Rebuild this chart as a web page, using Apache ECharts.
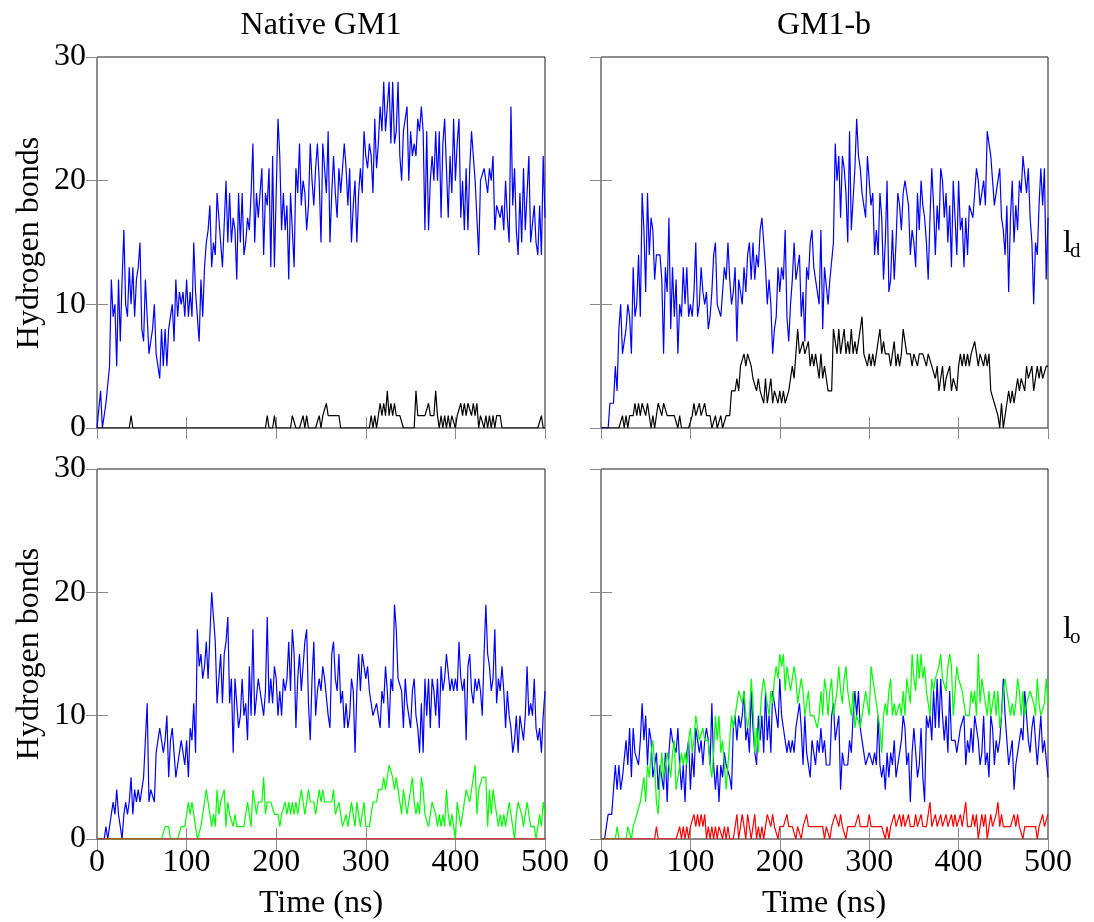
<!DOCTYPE html>
<html><head><meta charset="utf-8">
<script src="https://cdn.jsdelivr.net/npm/echarts@6/dist/echarts.min.js"></script>
<style>html,body{margin:0;padding:0;background:#fff}#c{width:1094px;height:922px}</style>
</head><body><div id="c"></div>
<script>
// ---- data: one sample every STEP ns, time 0..500 ----
const STEP = 2;
const xTicks = ['0', '100', '200', '300', '400', '500'];
const yTicks = ['0', '10', '20', '30'];
const panelTitles = ['Native GM1', 'GM1-b'];
const yName = 'Hydrogen bonds';
const xName = 'Time (ns)';
const phaseMain = ['l', 'l'];
const phaseSub = ['d', 'o'];

// Native GM1, l_d
const nativeLdBlue = [
0,0,3,0,0,2,2,5,12,9,
10,5,12,7,12,16,10,9,13,10,
13,9,12,13,15,8,7,12,9,6,
7,8,10,6,6,4,8,5,8,5,
8,9,10,7,12,9,11,10,11,9,
12,9,11,9,15,11,9,7,12,9,
13,15,16,18,13,15,14,19,19,15,
13,13,20,15,19,15,17,16,12,19,
15,19,14,15,17,16,19,23,15,19,
17,17,21,14,19,18,21,13,22,13,
19,25,22,16,19,16,18,12,19,16,
13,21,19,23,18,20,19,16,18,23,
20,18,21,23,20,15,23,23,19,24,
15,19,22,19,17,21,19,21,23,21,
18,21,15,18,20,15,19,21,19,24,
22,21,23,22,19,25,21,23,26,24,
28,24,26,28,23,28,23,24,28,22,
20,24,24,26,20,24,22,23,22,25,
24,26,24,16,24,16,20,22,20,24,
20,24,17,23,25,21,17,22,19,25,
20,23,25,17,20,16,21,16,21,24,
24,20,17,14,20,20,21,20,19,21,
20,22,16,18,18,17,18,16,20,17,
15,26,18,21,16,14,19,15,21,16,
19,22,15,15,18,15,14,18,14,22,
17];
const nativeLdBlack = [
0,0,0,0,0,0,0,0,0,0,
0,0,0,0,0,0,0,0,0,1,
0,0,0,0,0,0,0,0,0,0,
0,0,0,0,0,0,0,0,0,0,
0,0,0,0,0,0,0,0,0,0,
0,0,0,0,0,0,0,0,0,0,
0,0,0,0,0,0,0,0,0,0,
0,0,0,0,0,0,0,0,0,0,
0,0,0,0,0,0,0,0,0,0,
0,0,0,0,0,1,0,0,0,1,
0,0,0,0,0,0,0,0,0,1,
1,0,0,0,0,1,0,1,0,0,
0,0,0,0,1,0,1,1,2,1,
1,1,1,1,1,1,0,0,0,0,
0,0,0,0,0,0,0,0,0,0,
0,0,0,1,0,1,0,1,2,1,
2,1,3,1,2,1,2,1,1,1,
1,0,0,0,0,0,0,0,3,1,
1,1,1,1,1,2,1,1,1,3,
1,0,1,0,1,0,1,0,1,1,
0,1,1,2,1,2,1,2,2,1,
2,1,2,0,1,1,0,1,0,1,
0,1,0,1,1,1,0,0,0,0,
0,0,0,0,0,0,0,0,0,0,
0,0,0,0,0,0,0,0,1,0,
0];

// GM1-b, l_d
const gm1bLdBlue = [
0,0,0,0,0,2,2,2,5,3,
8,10,6,7,8,10,9,6,13,9,
10,14,9,19,16,11,19,14,17,16,
12,14,14,14,12,6,13,11,17,8,
13,9,12,6,10,9,13,10,13,9,
10,9,11,15,9,10,13,11,10,11,
8,9,11,14,15,10,10,9,11,13,
12,15,12,10,11,13,7,12,11,10,
13,11,14,15,12,15,12,14,13,16,
17,15,13,10,12,10,6,8,9,13,
11,13,12,16,9,7,10,12,15,12,
13,14,9,11,7,13,12,15,16,13,
12,12,10,16,8,13,13,10,12,12,
15,23,20,22,17,22,21,19,15,24,
16,16,21,25,22,21,19,18,17,22,
20,18,19,14,16,14,19,17,12,15,
20,11,12,16,12,15,19,18,16,19,
20,19,18,14,16,15,13,19,16,20,
18,17,15,12,17,21,18,14,18,16,
21,20,17,19,15,18,13,20,17,14,
20,16,17,13,17,14,18,18,17,19,
21,20,18,19,20,18,24,23,22,20,
18,19,20,21,17,16,14,18,11,17,
20,15,18,16,20,19,22,22,19,21,
17,15,10,15,14,18,21,18,21,12,
17];
const gm1bLdBlack = [
0,0,0,0,0,0,0,0,0,0,
0,0,1,0,1,0,1,1,1,2,
1,2,1,2,2,1,2,1,0,1,
0,1,2,2,1,2,2,1,1,1,
1,1,1,0,1,0,0,0,0,0,
0,1,2,1,1,2,1,1,2,1,
1,1,0,0,1,0,0,1,0,0,
1,1,1,3,3,3,4,3,5,5,
6,5,6,6,5,4,4,3,4,3,
3,2,4,2,3,4,2,3,3,2,
3,2,3,2,2,3,4,5,4,6,
8,6,6,7,6,6,7,5,6,5,
6,5,4,6,4,5,4,3,3,3,
8,7,6,8,6,7,8,6,7,6,
8,6,7,6,7,8,9,6,6,5,
6,5,6,5,6,6,8,6,7,6,
6,6,5,6,7,5,6,5,6,8,
7,6,6,6,5,6,6,5,6,6,
6,6,5,6,6,5,5,4,5,3,
4,5,3,4,4,5,3,4,4,3,
5,6,5,6,5,6,5,6,6,7,
6,5,6,6,5,6,5,6,3,3,
2,2,1,0,2,0,1,2,3,2,
3,2,3,4,3,4,4,3,5,4,
4,5,3,4,5,4,5,4,4,5,
5];

// Native GM1, l_o
const nativeLoBlue = [
0,0,0,0,0,1,0,1,1,3,
2,4,2,1,0,2,3,2,3,5,
2,4,3,4,3,4,5,5,11,3,
4,4,3,7,8,9,9,7,8,10,
5,8,9,7,5,6,6,8,8,6,
8,5,9,8,11,7,17,14,15,13,
14,16,13,13,20,18,16,11,13,15,
11,15,16,18,11,13,7,13,11,9,
10,13,10,11,8,14,10,17,10,10,
13,12,12,10,12,18,11,13,11,14,
13,10,12,10,13,12,13,16,12,17,
15,9,13,15,12,14,16,17,11,8,
13,16,10,12,13,12,14,13,13,10,
9,15,16,13,12,15,11,12,9,11,
9,10,13,12,7,12,15,12,15,15,
13,14,12,11,10,10,11,11,9,12,
11,14,12,9,13,12,19,17,13,13,
12,9,13,11,10,9,12,13,10,9,
7,11,7,13,10,13,9,13,12,10,
13,9,14,12,13,15,15,12,13,12,
13,12,16,13,12,13,8,14,15,12,
11,13,12,13,12,10,15,19,15,14,
12,13,17,11,13,12,14,12,9,12,
10,9,7,8,10,7,10,9,8,10,
14,10,11,10,13,9,8,9,7,10,
12];
const nativeLoGreen = [
0,0,0,0,0,0,0,0,0,0,
0,0,0,0,0,0,0,0,0,0,
0,0,0,0,0,0,0,0,0,0,
0,0,0,0,0,0,0,0,1,1,
1,0,0,0,0,0,0,1,1,1,
1,3,2,3,2,1,0,0,1,2,
2,4,3,2,1,2,1,4,2,3,
3,4,1,3,2,2,1,2,1,1,
1,1,1,1,3,2,1,4,3,2,
3,3,3,5,2,3,3,3,3,2,
2,2,1,2,2,3,2,3,2,3,
2,3,2,2,4,3,2,3,4,3,
3,3,2,3,4,3,4,3,3,3,
3,3,4,2,2,3,2,1,1,2,
1,2,3,2,1,3,2,1,2,3,
1,1,1,1,3,3,3,4,4,4,
5,4,4,6,6,5,4,5,5,3,
2,4,3,2,3,4,5,3,2,3,
2,5,4,2,2,1,2,3,3,2,
1,2,1,2,1,4,2,1,2,2,
0,3,2,1,2,3,4,4,3,4,
5,6,2,4,4,5,5,5,1,4,
2,4,4,2,1,2,1,2,1,2,
3,2,1,0,2,3,3,2,1,2,
3,2,1,1,1,0,1,2,1,3,
2];
const nativeLoRed = [
0,0,0,0,0,0,0,0,0,0,
0,0,0,0,0,0,0,0,0,0,
0,0,0,0,0,0,0,0,0,0,
0,0,0,0,0,0,0,0,0,0,
0,0,0,0,0,0,0,0,0,0,
0,0,0,0,0,0,0,0,0,0,
0,0,0,0,0,0,0,0,0,0,
0,0,0,0,0,0,0,0,0,0,
0,0,0,0,0,0,0,0,0,0,
0,0,0,0,0,0,0,0,0,0,
0,0,0,0,0,0,0,0,0,0,
0,0,0,0,0,0,0,0,0,0,
0,0,0,0,0,0,0,0,0,0,
0,0,0,0,0,0,0,0,0,0,
0,0,0,0,0,0,0,0,0,0,
0,0,0,0,0,0,0,0,0,0,
0,0,0,0,0,0,0,0,0,0,
0,0,0,0,0,0,0,0,0,0,
0,0,0,0,0,0,0,0,0,0,
0,0,0,0,0,0,0,0,0,0,
0,0,0,0,0,0,0,0,0,0,
0,0,0,0,0,0,0,0,0,0,
0,0,0,0,0,0,0,0,0,0,
0,0,0,0,0,0,0,0,0,0,
0,0,0,0,0,0,0,0,0,0,
0];

// GM1-b, l_o
const gm1bLoBlue = [
0,0,0,1,2,2,2,2,6,4,
6,4,5,5,8,6,9,5,9,7,
7,6,8,11,8,10,6,9,8,5,
6,7,4,6,6,4,7,3,7,9,
8,8,7,9,6,4,6,3,7,8,
4,7,5,9,8,7,8,6,8,9,
8,6,11,6,4,6,3,6,5,7,
6,6,5,4,9,10,8,10,9,10,
12,8,9,7,12,9,7,6,10,8,
10,7,12,8,10,7,12,11,10,9,
13,10,9,8,7,8,7,8,7,9,
10,11,9,6,10,7,7,5,8,7,
6,8,7,9,7,8,6,6,6,10,
11,8,8,10,4,7,6,6,6,8,
7,10,12,10,12,9,8,7,6,6,
7,7,6,7,6,10,6,5,6,4,
7,5,7,6,8,5,6,7,8,10,
9,6,7,3,7,9,7,5,6,9,
5,3,10,9,10,8,12,9,13,9,
13,10,8,10,7,12,8,8,8,7,
8,9,9,10,6,8,7,9,7,10,
9,8,6,7,10,6,7,5,10,9,
6,8,7,8,10,13,10,8,6,7,
8,4,6,7,8,9,8,12,10,8,
7,9,10,8,6,8,10,7,8,8,
5];
const gm1bLoGreen = [
0,0,0,0,0,0,0,0,0,1,
0,0,0,0,0,1,1,0,1,1,
2,2,3,4,5,3,6,5,7,8,
6,3,2,5,7,5,6,7,7,5,
7,8,4,4,6,7,6,7,6,8,
9,7,8,10,9,8,8,9,8,8,
8,6,5,7,10,8,10,7,8,6,
4,6,8,10,9,10,11,12,12,11,
12,10,9,10,13,11,7,9,7,10,
12,13,12,11,10,12,11,13,14,13,
15,14,15,12,14,13,12,13,14,13,
11,12,13,12,10,11,12,10,10,10,
10,9,10,12,10,13,12,10,12,13,
10,11,12,14,12,11,13,14,12,11,
10,12,9,10,10,9,10,11,12,11,
10,14,13,13,11,10,9,7,10,11,
10,12,13,10,11,10,10,11,10,12,
10,13,12,11,15,13,12,15,13,15,
13,14,12,12,10,13,12,13,13,14,
15,13,13,12,14,15,14,10,12,14,
13,13,12,11,10,10,10,12,11,12,
10,15,11,13,12,11,10,12,10,11,
12,10,12,9,10,12,13,12,11,10,
11,10,11,13,12,10,12,10,11,11,
12,12,11,10,13,11,10,10,11,13,
11];
const gm1bLoRed = [
0,0,0,0,0,0,0,0,0,0,
0,0,0,0,0,0,0,0,0,0,
0,0,0,0,0,0,0,0,0,0,
0,1,0,0,0,0,0,0,0,0,
0,0,0,0,1,0,1,0,1,0,
1,1,2,1,2,1,2,1,2,0,
1,0,1,0,1,0,1,1,0,1,
0,1,0,0,0,1,2,0,1,2,
1,0,2,1,0,1,2,0,1,0,
1,0,1,2,2,1,2,1,1,0,
1,1,1,1,2,1,1,1,1,0,
1,1,0,1,1,2,1,1,1,1,
1,1,1,1,1,0,1,1,0,1,
1,2,2,1,2,1,1,0,1,1,
1,1,1,1,2,1,1,1,1,1,
2,1,1,1,1,1,1,1,1,0,
1,0,1,1,2,1,1,2,1,2,
1,1,2,1,1,1,2,1,1,2,
1,1,1,2,3,1,1,2,1,1,
2,1,1,2,1,1,2,1,2,1,
1,2,1,1,3,1,1,1,2,1,
2,0,1,2,1,2,0,1,2,1,
1,2,3,1,2,1,1,1,1,1,
1,2,1,2,1,1,0,1,1,1,
1,1,1,1,0,1,1,2,1,1,
2];

// ---- chart ----
const BLUE = '#0000ff', BLACK = '#000000', GREEN = '#00ff00', RED = '#ff0000';
const FONT = '"Liberation Serif", "Times New Roman", serif';
const FS = 32;
const pts = arr => arr.map((v, i) => [i * STEP, v]);

const panels = [
  { rect: { left: 97, top: 57, width: 448, height: 371 }, xLab: false, yLab: true,
    lines: [[nativeLdBlue, BLUE], [nativeLdBlack, BLACK]] },
  { rect: { left: 601, top: 57, width: 447, height: 371 }, xLab: false, yLab: false,
    lines: [[gm1bLdBlue, BLUE], [gm1bLdBlack, BLACK]] },
  { rect: { left: 97, top: 469, width: 448, height: 370 }, xLab: true, yLab: true,
    lines: [[nativeLoBlue, BLUE], [nativeLoGreen, GREEN], [nativeLoRed, RED]] },
  { rect: { left: 601, top: 469, width: 447, height: 370 }, xLab: true, yLab: false,
    lines: [[gm1bLoBlue, BLUE], [gm1bLoGreen, GREEN], [gm1bLoRed, RED]] }
];

const tickStyle = { show: true, inside: true, length: 11, lineStyle: { color: '#8a8a8a', width: 1 } };
const labelBase = { color: '#000', fontFamily: FONT, fontSize: FS, lineHeight: FS };

const grid = [], xAxis = [], yAxis = [], series = [];
panels.forEach((p, i) => {
  grid.push(Object.assign({ show: true, borderColor: '#1a1a1a', borderWidth: 1,
    backgroundColor: 'transparent', containLabel: false, outerBoundsMode: 'none' }, p.rect));
});
panels.forEach((p, i) => {
  xAxis.push({ gridIndex: i, type: 'value', min: 0, max: 500, interval: 100, position: 'bottom',
    axisLine: { show: false }, axisTick: tickStyle, splitLine: { show: false },
    axisLabel: Object.assign({ show: p.xLab, margin: 8, formatter: v => xTicks[Math.round(v / 100)] }, labelBase) });
  yAxis.push({ gridIndex: i, type: 'value', min: 0, max: 30, interval: 10, position: 'left',
    axisLine: { show: false }, axisTick: tickStyle, splitLine: { show: false },
    axisLabel: Object.assign({ show: p.yLab, margin: 11, formatter: v => yTicks[Math.round(v / 10)] }, labelBase) });
});
panels.forEach((p, i) => {
  xAxis.push({ gridIndex: i, type: 'value', min: 0, max: 500, interval: 100, position: 'top',
    axisLine: { show: false }, axisTick: tickStyle, splitLine: { show: false }, axisLabel: { show: false } });
  yAxis.push({ gridIndex: i, type: 'value', min: 0, max: 30, interval: 10, position: 'right',
    axisLine: { show: false }, axisTick: tickStyle, splitLine: { show: false }, axisLabel: { show: false } });
});
panels.forEach((p, i) => {
  p.lines.forEach(([arr, col]) => {
    series.push({ type: 'line', xAxisIndex: i, yAxisIndex: i, data: pts(arr),
      showSymbol: false, symbol: 'none', silent: true, animation: false,
      lineStyle: { color: col, width: 1.2 }, itemStyle: { color: col } });
  });
});

function txt(text, x, y, opts) {
  return Object.assign({ type: 'text', x: x, y: y, silent: true, z: 100,
    style: { text: text, fill: '#000', font: FS + 'px ' + FONT,
      align: 'center', verticalAlign: 'middle', textAlign: 'center', textVerticalAlign: 'middle' } }, opts || {});
}
const graphic = [
  txt(panelTitles[0], 321, 26),
  txt(panelTitles[1], 824, 26),
  txt(yName, 30, 243, { rotation: Math.PI / 2 }),
  txt(yName, 30, 654, { rotation: Math.PI / 2 }),
  txt(xName, 321, 904),
  txt(xName, 824, 904)
];
[[244, 251], [630, 637]].forEach((ys, k) => {
  const g1 = txt(phaseMain[k], 1063, ys[0]);
  g1.style.align = 'left'; g1.style.textAlign = 'left';
  const g2 = txt(phaseSub[k], 1070, ys[1]);
  g2.style.align = 'left'; g2.style.textAlign = 'left';
  g2.style.font = '21px ' + FONT;
  graphic.push(g1, g2);
});

const chart = echarts.init(document.getElementById('c'), null, { renderer: 'canvas' });
chart.setOption({ animation: false, backgroundColor: '#fff', grid, xAxis, yAxis, series, graphic });
</script></body></html>
